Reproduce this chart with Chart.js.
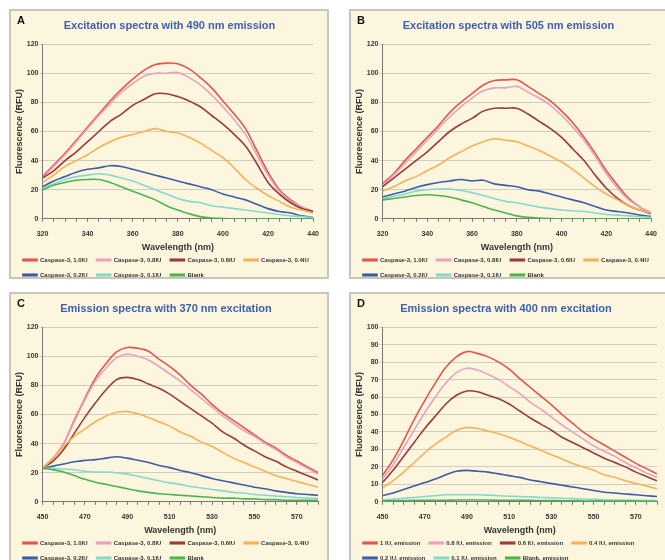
<!DOCTYPE html>
<html>
<head>
<meta charset="utf-8">
<script src="https://cdn.jsdelivr.net/npm/chart.js@4.4.1/dist/chart.umd.min.js"></script>
<style>
  body { margin: 0; background: #ffffff; width: 665px; height: 560px; overflow: hidden; position: relative; font-family: Arial, "Liberation Sans", sans-serif; }
  .panel { position: absolute; background: #fcf6df; border: 2px solid #c9c5b8; box-sizing: border-box; }
  .panel canvas { position: absolute; left: 0; top: 0; }
  .letter { position: absolute; left: 6px; top: 3px; font-weight: bold; font-size: 11px; color: #111; }
</style>
</head>
<body>
<div class="panel" id="pA" style="left:9px;top:9px;width:320px;height:270px;"><canvas id="cA" width="316" height="277"></canvas><div class="letter">A</div></div>
<div class="panel" id="pB" style="left:349px;top:9px;width:318px;height:270px;"><canvas id="cB" width="314" height="277"></canvas><div class="letter">B</div></div>
<div class="panel" id="pC" style="left:9px;top:292px;width:320px;height:272px;"><canvas id="cC" width="316" height="277"></canvas><div class="letter">C</div></div>
<div class="panel" id="pD" style="left:349px;top:292px;width:318px;height:272px;"><canvas id="cD" width="314" height="277"></canvas><div class="letter">D</div></div>
<script>
// wavelength grids (nm)
const excWave = [320, 325, 330, 335, 340, 345, 350, 355, 360, 365, 370, 375, 380, 385, 390, 395, 400, 405, 410, 415, 420, 425, 430, 435, 440];
const emWave = [450, 455, 460, 465, 470, 475, 480, 485, 490, 495, 500, 505, 510, 515, 520, 525, 530, 535, 540, 545, 550, 555, 560, 565, 570, 575, 580];

const caspaseLabels = ['Caspase-3, 1.0IU', 'Caspase-3, 0.8IU', 'Caspase-3, 0.6IU', 'Caspase-3, 0.4IU', 'Caspase-3, 0.2IU', 'Caspase-3, 0.1IU', 'Blank'];
const emissionLabels = ['1 IU, emission', '0.8 IU, emission', '0.6 IU, emission', '0.4 IU, emission', '0.2 IU, emission', '0.1 IU, emission', 'Blank, emission'];
const lineColors = ['#e2564e', '#eaa2bc', '#9b3b3b', '#f5b256', '#3d5ca6', '#86d8cc', '#4db34f'];

// A: excitation, 490 nm emission
const a10 = [29, 37, 45, 54, 63, 72, 81, 89, 96, 102, 106, 107, 106.5, 103, 97, 90, 81, 72, 62, 47, 32, 20, 13, 8, 5];
const a08 = [28, 36, 44, 53, 62, 71, 79, 87, 93, 98, 100, 100, 100.5, 97, 92, 85, 77, 68, 58, 44, 30, 19, 12, 8, 5];
const a06 = [28, 33, 40, 46, 53, 60, 67, 72, 78, 82, 86, 86, 84, 81, 77, 71, 65, 58, 50, 38, 25, 17, 11, 7, 5];
const a04 = [25, 30, 36, 40, 44, 49, 53, 56, 58, 60, 62, 60, 59, 56, 52, 47, 42, 35, 27, 21, 16, 12, 8, 6, 4];
const a02 = [22, 26, 29, 32, 34, 35, 36.5, 36, 34, 32, 30, 28, 26, 24, 22, 20, 17, 15, 13, 10, 7, 5, 4, 2, 1];
const a01 = [21, 24, 27, 29, 30, 31, 30, 28, 26, 23, 20, 17, 14, 12, 11, 9, 8, 7, 6, 5, 4, 3, 2, 1.5, 1];
const aBlank = [20, 23, 25, 26.5, 27, 27, 25, 22, 19, 16, 13, 9, 6, 3.5, 1.5, 0.5, 0.2, 0, 0, 0, 0, 0, 0, 0, 0];

// B: excitation, 505 nm emission
const b10 = [24, 31, 40, 48, 56, 64, 73, 80, 86, 92, 95, 95.5, 95.5, 91, 86, 81, 74, 66, 56, 45, 33, 23, 14, 8, 4];
const b08 = [23, 30, 38, 46, 54, 62, 70, 77, 83, 88, 90, 90, 91, 87, 83, 78, 71, 63, 54, 43, 31, 21, 13, 8, 4];
const b06 = [22, 28, 34, 40, 46, 53, 60, 65, 69, 74, 76, 76, 76, 72, 67, 62, 56, 48, 40, 30, 21, 14, 9, 6, 3.5];
const b04 = [19, 22, 26, 29, 33, 37, 42, 46, 50, 53, 55, 54, 53, 50, 47, 43, 39, 34, 28, 22, 17, 13, 9, 6, 4];
const b02 = [15, 17, 19, 21.5, 23.5, 25, 26, 27, 26, 26.5, 24, 23, 22, 20, 19, 17, 15, 13, 11, 8.5, 6, 5, 4, 2.5, 1.5];
const b01 = [14, 15.5, 17, 19, 20, 20.5, 20.5, 19.5, 18, 16, 14, 12, 11, 9.5, 8, 7, 6, 5.5, 5, 4, 3, 2.5, 2, 1.5, 1];
const bBlank = [13, 14, 15, 16, 16.5, 16, 15, 13, 11, 8.5, 6, 4, 2, 1, 0.5, 0.2, 0, 0, 0, 0, 0, 0, 0, 0, 0];

// C: emission, 370 nm excitation
const c10 = [23, 30, 40, 56, 71, 85, 95, 103, 106, 105.5, 103.5, 98, 93, 87, 80, 74, 67, 61, 56, 51, 46, 41, 37, 32, 28, 24, 20];
const c08 = [23, 30, 40, 55, 70, 83, 92, 99, 101.5, 100, 97.5, 93, 88, 83, 77, 71, 65, 59, 54, 49, 45, 40, 36, 31, 27, 23, 19];
const c06 = [23, 28, 36, 47, 58, 68, 77, 84, 85.5, 84, 81, 78, 74, 69, 64, 59, 54, 48, 44, 39, 35, 31, 28, 24, 21, 18, 15];
const c04 = [23, 30, 38, 45, 50, 55, 59, 61.5, 62, 60.5, 58, 55, 52, 48, 45, 41, 38, 34, 30, 27, 24, 21, 18, 16, 14, 12, 10];
const c02 = [23, 24.5, 26, 27.5, 28.5, 29, 30, 31, 30, 28.5, 27, 25, 23.5, 21.5, 20, 18, 16, 14.5, 13, 11.5, 10, 9, 7.5, 6.5, 5.5, 5, 4.5];
const c01 = [23, 23, 22.5, 22, 21, 20.5, 20.5, 20, 19, 17.5, 16, 14.5, 13, 12, 10.5, 9.5, 8.5, 7.5, 6.5, 6, 5, 4.5, 4, 3.5, 3, 2.5, 2.5];
const cBlank = [23, 22, 20.5, 18, 15.5, 13.5, 12, 10.5, 9, 7.5, 6.5, 5.5, 5, 4.5, 4, 3.5, 3, 2.5, 2.5, 2, 2, 1.5, 1.5, 1, 1, 1, 1];

// D: emission, 400 nm excitation
const d10 = [15, 24, 35, 47, 58, 68, 77, 83, 86, 85, 83, 80, 76, 70.5, 65.5, 60.5, 55.5, 50, 45, 40, 36, 32.5, 29, 25.5, 22, 19, 16];
const d08 = [13, 21, 31, 41, 51, 60, 68, 74, 76.5, 75.5, 73, 70, 66, 62, 57, 53, 48.5, 44, 40, 36, 32, 29, 26, 22.5, 19.5, 16.5, 14];
const d06 = [11, 18, 26, 34, 42, 49, 56, 61, 63.5, 63, 61, 59, 56, 52, 48, 44.5, 41, 37, 34, 31, 28, 25, 22.5, 20, 17, 14.5, 12];
const d04 = [8, 12, 17, 22.5, 28, 33, 37, 41, 42.5, 42, 40.5, 39, 37, 34.5, 32, 29.5, 27, 24.5, 22, 20, 18, 15.5, 14, 12, 10.5, 9, 7.5];
const d02 = [3.5, 5, 7, 9, 11, 13, 15.5, 17.5, 18, 17.5, 17, 16, 15, 14, 12.5, 11.5, 10.5, 9.5, 8.5, 7.5, 6.5, 5.5, 5, 4.5, 4, 3.5, 3];
const d01 = [1, 1.5, 2, 2.5, 3, 3.5, 4, 4, 4, 4, 3.8, 3.5, 3.2, 3, 2.8, 2.5, 2.3, 2, 1.8, 1.6, 1.4, 1.2, 1, 1, 0.9, 0.8, 0.7];
const dBlank = [0.5, 0.6, 0.7, 0.8, 0.8, 0.9, 0.9, 1, 1, 1, 1, 0.9, 0.9, 0.8, 0.8, 0.7, 0.7, 0.6, 0.6, 0.5, 0.5, 0.5, 0.4, 0.4, 0.4, 0.3, 0.3];

const FONT = 'Arial, "Liberation Sans", sans-serif';

function makePanel(canvasId, title, wave, series, labels, xMin, xMax, yMax, yStep, rightPad) {
    const datasets = series.map((vals, i) => ({
        label: labels[i],
        data: vals.map((v, k) => ({ x: wave[k], y: v })),
        borderColor: lineColors[i],
        backgroundColor: lineColors[i],
        borderWidth: 1.6,
        pointRadius: 0,
        tension: 0.35,
        fill: false
    })).reverse(); // draw strongest curves on top

    const ctx = document.getElementById(canvasId).getContext('2d');
    return new Chart(ctx, {
        type: 'line',
        data: { datasets: datasets },
        options: {
            responsive: false,
            animation: false,
            layout: { padding: { left: 3, right: rightPad, top: 0, bottom: 0 } },
            plugins: {
                title: {
                    display: true,
                    text: title,
                    color: '#3c5fae',
                    font: { family: FONT, size: 11, weight: 'bold' },
                    padding: { top: 8, bottom: 12 }
                },
                legend: {
                    position: 'bottom',
                    align: 'start',
                    reverse: true,
                    labels: {
                        boxWidth: 14,
                        boxHeight: 1.5,
                        padding: 9,
                        color: '#333',
                        font: { family: FONT, size: 6, weight: 'bold' }
                    }
                },
                tooltip: { enabled: false }
            },
            scales: {
                x: {
                    type: 'linear',
                    min: xMin,
                    max: xMax,
                    grid: { display: true, drawOnChartArea: false, drawTicks: true, tickLength: 3, color: '#777' },
                    border: { color: '#777' },
                    ticks: {
                        stepSize: 5,
                        autoSkip: false,
                        maxRotation: 0,
                        color: '#333',
                        font: { family: FONT, size: 7, weight: 'bold' },
                        padding: 8,
                        callback: v => ((v - xMin) % 20 === 0 ? v : '')
                    },
                    title: {
                        display: true,
                        text: 'Wavelength (nm)',
                        color: '#333',
                        font: { family: FONT, size: 9, weight: 'bold' },
                        padding: { top: -4, bottom: -5 }
                    }
                },
                y: {
                    min: 0,
                    max: yMax,
                    grid: { color: '#cfccc2', tickLength: 3 },
                    border: { color: '#777' },
                    ticks: {
                        stepSize: yStep,
                        color: '#333',
                        font: { family: FONT, size: 7, weight: 'bold' },
                        padding: 1
                    },
                    title: {
                        display: true,
                        text: 'Fluorescence (RFU)',
                        color: '#333',
                        font: { family: FONT, size: 9, weight: 'bold' },
                        padding: { top: 0, bottom: 1 }
                    }
                }
            }
        }
    });
}

document.addEventListener('DOMContentLoaded', function() {
    makePanel('cA', 'Excitation spectra with 490 nm emission', excWave,
        [a10, a08, a06, a04, a02, a01, aBlank], caspaseLabels, 320, 440, 120, 20, 2);
    makePanel('cB', 'Excitation spectra with 505 nm emission', excWave,
        [b10, b08, b06, b04, b02, b01, bBlank], caspaseLabels, 320, 440, 120, 20, 2);
    makePanel('cC', 'Emission spectra with 370 nm excitation', emWave,
        [c10, c08, c06, c04, c02, c01, cBlank], caspaseLabels, 450, 580, 120, 20, 9);
    makePanel('cD', 'Emission spectra with 400 nm excitation', emWave,
        [d10, d08, d06, d04, d02, d01, dBlank], emissionLabels, 450, 580, 100, 10, 7);
});
</script>
</body>
</html>
